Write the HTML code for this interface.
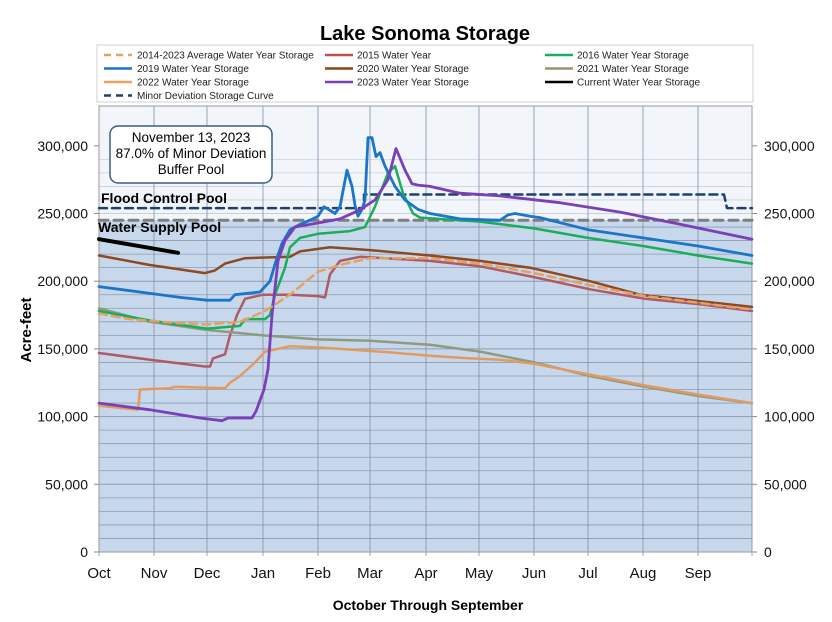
<!DOCTYPE html>
<html><head><meta charset="utf-8"><style>
body{margin:0;background:#fff;}
svg{display:block;font-family:"Liberation Sans",Arial,sans-serif;}
</style></head><body>
<svg id="s" width="832" height="622" viewBox="0 0 832 622" xmlns="http://www.w3.org/2000/svg">
<rect width="832" height="622" fill="#fff"/>
<text x="425" y="40" text-anchor="middle" font-size="20" font-weight="bold">Lake Sonoma Storage</text>
<!-- legend -->
<rect x="97" y="45" width="656" height="57" fill="#fff" stroke="#d0d0d0"/>
<g font-size="10" fill="#222">
<line x1="104" y1="55" x2="132" y2="55" stroke="#e8a060" stroke-width="2.5" stroke-dasharray="7,5"/><text x="137" y="58.5">2014-2023 Average Water Year Storage</text>
<line x1="325" y1="55" x2="353" y2="55" stroke="#c0504d" stroke-width="2.5"/><text x="357" y="58.5">2015 Water Year</text>
<line x1="545" y1="55" x2="573" y2="55" stroke="#1aad5a" stroke-width="2.5"/><text x="577" y="58.5">2016 Water Year Storage</text>
<line x1="104" y1="68.5" x2="132" y2="68.5" stroke="#1b75c8" stroke-width="2.5"/><text x="137" y="72">2019 Water Year Storage</text>
<line x1="325" y1="68.5" x2="353" y2="68.5" stroke="#8b4513" stroke-width="2.5"/><text x="357" y="72">2020 Water Year Storage</text>
<line x1="545" y1="68.5" x2="573" y2="68.5" stroke="#9a9270" stroke-width="2.5"/><text x="577" y="72">2021 Water Year Storage</text>
<line x1="104" y1="82" x2="132" y2="82" stroke="#f0a060" stroke-width="2.5"/><text x="137" y="85.5">2022 Water Year Storage</text>
<line x1="325" y1="82" x2="353" y2="82" stroke="#7b3fb8" stroke-width="2.5"/><text x="357" y="85.5">2023 Water Year Storage</text>
<line x1="545" y1="82" x2="573" y2="82" stroke="#000" stroke-width="2.5"/><text x="577" y="85.5">Current Water Year Storage</text>
<line x1="104" y1="95.5" x2="132" y2="95.5" stroke="#1f3f73" stroke-width="2.5" stroke-dasharray="7,5"/><text x="137" y="99">Minor Deviation Storage Curve</text>
</g>
<!-- plot bg -->
<rect x="99" y="106" width="653" height="114" fill="#f2f6fb"/>
<rect x="99" y="220" width="653" height="332" fill="#c8d8ec"/>
<g id="grid"></g>
<rect x="99" y="106" width="653" height="446" fill="none" stroke="#999"/>
<g id="ser" fill="none" stroke-linejoin="round" stroke-linecap="round"></g>
<!-- annotation -->
<rect x="110" y="126" width="162" height="57" rx="8" fill="#fff" stroke="#3a5d8a" stroke-width="1.5"/>
<g font-size="13.5" text-anchor="middle"><text x="191" y="142">November 13, 2023</text><text x="191" y="158">87.0% of Minor Deviation</text><text x="191" y="174">Buffer Pool</text></g>
<text x="101" y="203" font-size="14" font-weight="bold">Flood Control Pool</text>
<text x="98" y="232" font-size="14" font-weight="bold">Water Supply Pool</text>
<g id="ticks" font-size="14" fill="#111"></g>
<text transform="translate(31,330) rotate(-90)" text-anchor="middle" font-size="15" font-weight="bold">Acre-feet</text>
<text x="428" y="610" text-anchor="middle" font-size="14" font-weight="bold">October Through September</text>
</svg>
<script>
var NS="http://www.w3.org/2000/svg";
function el(p,t,a,txt){var e=document.createElementNS(NS,t);for(var k in a)e.setAttribute(k,a[k]);if(txt!=null)e.textContent=txt;p.appendChild(e);return e;}
function Y(v){return 552-v*1.354;}
var g=document.getElementById("grid"),tk=document.getElementById("ticks"),s=document.getElementById("ser");
for(var v=10;v<300;v+=10){el(g,"line",{x1:99,x2:752,y1:Y(v),y2:Y(v),stroke:v>=250?"#c8d0dc":"#8e9bb0","stroke-width":v%50==0?1:0.8});}
var mx=[99,154,207,263,318,370,426,479,534,588,643,698,752];
var mn=["Oct","Nov","Dec","Jan","Feb","Mar","Apr","May","Jun","Jul","Aug","Sep"];
mx.forEach(function(x,i){el(g,"line",{x1:x,x2:x,y1:106,y2:556,stroke:"#8090a8","stroke-width":0.8});if(i<12)el(tk,"text",{x:x,y:578,"text-anchor":"middle","font-size":15},mn[i]);});
for(var v=0;v<=300;v+=50){var l=v==0?"0":(v+",000");el(tk,"text",{x:88,y:Y(v)+5,"text-anchor":"end"},l);el(tk,"text",{x:764,y:Y(v)+5},l);
el(g,"line",{x1:94,x2:99,y1:Y(v),y2:Y(v),stroke:"#888"});el(g,"line",{x1:752,x2:757,y1:Y(v),y2:Y(v),stroke:"#888"});}
function P(d,c,w,dash){var pts=[];for(var i=0;i<d.length;i+=2)pts.push(d[i]+","+Y(d[i+1]).toFixed(1));var a={points:pts.join(" "),stroke:c,"stroke-width":w};if(dash)a["stroke-dasharray"]=dash;el(s,"polyline",a);}
P([99,245,752,245],"#7f7f7f",3,"9,6");
P([99,254,364,254,364,264,724,264,727,254,752,254],"#1f3f73",2.5,"8,5");
P([99,147,150,142,205,137,210,137,213,143,225,146,230,160,237,175,245,187,263,190,290,190,318,189,325,188,330,205,340,215,360,218,430,215,480,211,534,203,590,194,645,187,700,183,752,178],"#b05a66",2.5);
P([99,180,150,170,207,164,263,160,318,157,370,156,430,153,480,148,534,140,590,130,645,122,700,115,752,110],"#8f9a80",2.5);
P([99,108,138,105,140,120,170,121,175,122,225,121,230,125,240,130,255,140,265,148,290,152,320,151,380,148,430,145,470,143,500,142,534,139,590,131,645,123,700,116,752,110],"#e39a60",2.5);
P([99,219,150,212,205,206,215,208,225,213,245,217,290,218,300,222,330,225,370,223,430,219,480,215,530,210,590,200,640,190,752,181],"#8b4a22",2.5);
P([99,178,150,171,207,165,240,167,245,172,265,172,270,175,275,190,285,210,290,225,300,232,318,235,350,237,365,240,375,255,388,280,395,285,403,265,413,250,420,247,480,244,534,239,588,232,643,226,698,219,752,213],"#1aad5a",2.5);
P([99,196,150,191,180,188,207,186,230,186,235,190,260,192,270,200,276,215,282,228,290,238,300,242,310,245,318,248,324,255,335,250,340,255,347,282,352,270,355,256,358,248,362,253,365,260,368,306,372,306,376,292,380,295,385,285,395,270,405,260,418,253,430,250,460,246,500,245,508,249,515,250,530,248,540,247,588,238,643,232,698,226,752,219],"#1b75c8",2.8);
P([99,110,150,105,200,99,222,97,228,99,252,99,256,104,260,112,264,120,268,135,272,175,278,215,285,230,295,240,318,243,340,246,358,252,375,260,388,275,396,298,405,282,412,272,418,271,430,270,460,265,500,263,560,258,620,251,680,242,752,231],"#7b3fb8",2.8);
P([99,231,178,221],"#000",4);
P([99,176,130,172,180,169,207,168,240,170,265,178,290,190,318,207,345,213,370,217,430,217,480,213,534,206,590,197,645,189,700,184,752,179],"#e8a060",2.5,"8,5");
</script>
</body></html>
